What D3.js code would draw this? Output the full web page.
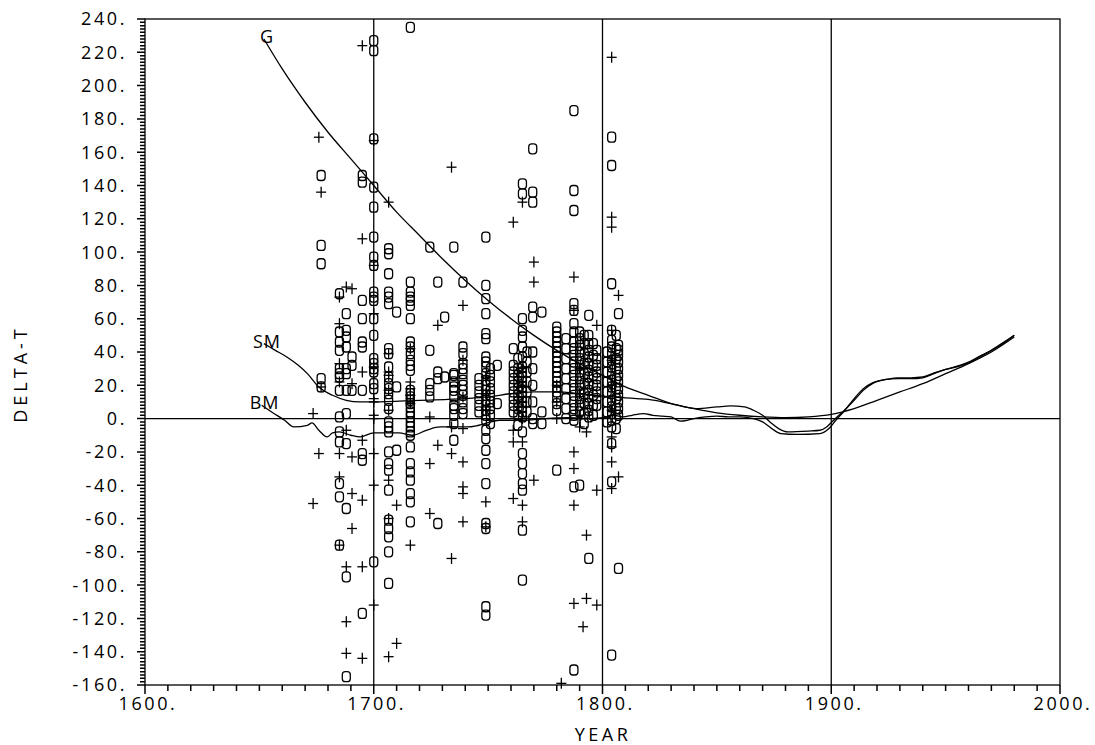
<!DOCTYPE html>
<html><head><meta charset="utf-8">
<script src="https://cdn.jsdelivr.net/npm/d3@7"></script>
<style>
body{margin:0;background:#fff;}
svg{display:block;}
text{font-family:"Open Sans","DejaVu Sans",sans-serif;font-weight:400;fill:#000;}
</style></head>
<body><svg id="chart" width="1095" height="745"></svg>
<script>
// ---------------- DATA ----------------
const xTicks = [1600, 1700, 1800, 1900, 2000];
const yTicks = [-160,-140,-120,-100,-80,-60,-40,-20,0,20,40,60,80,100,120,140,160,180,200,220,240];
const gridYears = [1700, 1800, 1900];

const gYears  = [1652,1660,1670,1680,1690,1700,1710,1720,1730,1740,1750,1760,1770,1780,1790,1800,1810,1820,1830,1840,1850,1860,1870,1880,1890,1900,1910,1920,1930,1940,1950,1960,1970,1980];
const gValues = [228,210,190,172,156,140,124,110,96,83,71,60,50,41,33,26,19,14,9,6,3.5,2,1,0.5,1,2.5,6,11,16,21,27,33,40,49];

const smYears  = [1652,1657,1662,1667,1671,1676,1682,1688,1694,1700,1720,1740,1750,1760,1770,1780,1790,1800,1810,1815,1820,1830,1841,1850,1856,1862,1866,1870,1874,1877,1881,1890,1895,1898,1901,1905,1910,1914,1918,1924,1929,1935,1940,1945,1950,1955,1961,1965,1970,1975,1980];
const smValues = [45,41,37,32,27,19,14,11,10,10,11,12,13,15,16,16,15,13.5,12.5,12,11.5,9,6,7,7.6,7,5,2,-3,-6,-8,-7.5,-7,-5,-1,4,11,17,21,23.5,24,24,24.5,27,29.5,31,34,37,41,45,50];

const bmYears  = [1651,1656,1661,1665,1671,1673,1676,1679.6,1682,1685,1690,1694,1700,1711,1717,1723,1729,1741,1746,1755,1765,1775,1785,1795,1800,1805,1809,1813,1818,1822,1826,1830,1834,1837,1840,1845,1850,1855,1860,1866,1870,1874,1878,1885,1895,1899,1902,1906,1910,1914,1918,1924,1929,1935,1940,1945,1950,1955,1961,1965,1970,1975,1980];
const bmValues = [8,3.4,-1,-5,-4,-2.6,-7,-11,-8.6,-8,-10,-11,-8.6,-8.6,-10,-7,-5,-5,-4,-1,-1,0,0.5,0,0.5,2,1,2,3,2,1.5,1,-1.5,-1,0,1,1.5,1,1,0,-2,-6,-9,-9.5,-9,-6,-1,5,12,18,21.5,23.5,24.5,24.5,25,27.5,29.5,31.5,34.5,37.5,41,45.5,50];

// "O" observations: [year, values...]
const circleCols = [
 [1677,[146,104,93,24,19]],
 [1685,[75,52,46,41,30,27,25,17,1,-8,-14,-39,-47,-76]],
 [1688,[63,53,49,43,30,27,17,3,-15,-54,-95,-155]],
 [1690.5,[37,32,17]],
 [1695,[146,142,71,60,46,43,17,-21,-25,-117]],
 [1700,[227,221,168,139,127,109,97,92,76,73,71,60,50,36,33,30,28,21,18,-86]],
 [1706.5,[102,99,87,76,73,69,42,39,31,25,21,18,15,11,6,-2,-5,-8,-20,-27,-31,-43,-61,-66,-71,-80,-99]],
 [1710,[64,19,-19]],
 [1716,[235,82,76,73,71,68,60,46,43,39,35,32,29,17,15,13,11,9,7,4,1,-2,-5,-8,-10,-17,-27,-32,-37,-45,-50,-62]],
 [1724.5,[103,41,21,17,13]],
 [1728,[82,28,24,-63]],
 [1731,[61,25]],
 [1735,[103,27,26,22,19,17,13,8,6,2,-3,-13]],
 [1739,[82,43,39,33,30,27,23,20,17,14,10,6,3]],
 [1746,[24,20,16,12,8,4]],
 [1749,[109,80,72,63,51,48,37,34,31,27,23,20,17,14,11,8,5,2,-1,-7,-12,-19,-27,-39,-63,-66,-113,-118]],
 [1751,[30,26,22,18,14,10,6,2,-3]],
 [1754,[32,9]],
 [1761,[42,32,28,24,20,16,12,8,4]],
 [1763,[36,30,26,22,18,14,10,6,2,-4]],
 [1765,[141,135,60,53,49,43,37,31,28,25,22,19,16,13,10,7,4,1,-8,-21,-27,-33,-39,-43,-67,-97]],
 [1767,[40,34,28,22,16,10,4]],
 [1769.5,[162,136,130,67,61,40,30,20,10,0,-3]],
 [1773.5,[64,4,-3]],
 [1780,[55,52,49,46,43,40,37,34,31,28,25,22,19,16,13,9,5,-31]],
 [1784,[48,42,36,30,24,18,12,6,0]],
 [1787.5,[185,137,125,69,65,57,52,46,42,38,34,30,26,22,18,14,10,6,2,-1,-41,-151]],
 [1790,[52,48,44,40,36,32,28,24,20,16,12,8,4,-40]],
 [1792,[50,45,39,33,27,21,15,9,3,-3]],
 [1794,[62,50,45,41,37,33,29,25,21,17,13,9,5,1,-84]],
 [1796,[45,38,32,26,20,14,8,2]],
 [1797.5,[41,36,32,28,24,20,16,12,8]],
 [1802,[40,34,28,22,16,10,4,-2]],
 [1804,[169,152,81,53,47,43,39,35,31,27,23,19,15,11,7,3,-1,-5,-15,-38,-142]],
 [1806,[50,42,36,30,24,18,12,6,0,-6]],
 [1807,[63,44,41,38,34,30,26,22,18,14,10,6,2,-90]]
];

// "+" observations: [year, values...]
const plusCols = [
 [1673.5,[3,-51]],
 [1676,[169,-21]],
 [1677,[136,19]],
 [1685,[73,57,33,22,-21,-35,-76]],
 [1688,[79,-7,-89,-122,-141]],
 [1690.5,[78,21,-23,-45,-66]],
 [1695,[224,108,28,-13,-49,-89,-144]],
 [1700,[167,92,63,31,12,10,2,0,-21,-40,-112]],
 [1706.5,[130,39,28,26,17,5,-37,-60,-143]],
 [1710,[-52,-135]],
 [1716,[42,22,18,14,9,-76]],
 [1724.5,[1,-27,-57]],
 [1728,[56,-16]],
 [1734,[151,-5,-21,-84]],
 [1739,[68,35,13,-6,-26,-41,-45,-62]],
 [1749,[25,15,7,5,-50,-65]],
 [1761,[118,-7,-14,-48]],
 [1765,[130,30,20,10,0,-14,-52,-62]],
 [1770,[94,82,-37]],
 [1780,[20,10,0]],
 [1782,[-159]],
 [1787.5,[85,65,-20,-30,-52,-111]],
 [1790,[30,15,2,-5]],
 [1791.5,[-125]],
 [1793,[-8,-70,-108]],
 [1797.5,[56,-43,-112]],
 [1804,[217,121,115,53,35,20,5,-11,-17,-26,-42]],
 [1807,[74,-35]]
];

// ---------------- DRAW ----------------
const svg = d3.select("#chart");
const x = d3.scaleLinear().domain([1600, 2000]).range([145, 1060]);
const y = d3.scaleLinear().domain([-160, 240]).range([685, 19]);
const ink = "#000";
const SW = 1.3;

// frame
svg.append("rect").attr("x", x(1600)).attr("y", y(240))
  .attr("width", x(2000) - x(1600)).attr("height", y(-160) - y(240))
  .attr("fill", "none").attr("stroke", ink).attr("stroke-width", SW);

// grid lines
svg.selectAll("line.grid").data(gridYears).join("line").attr("class", "grid")
  .attr("x1", d => x(d)).attr("x2", d => x(d))
  .attr("y1", y(240)).attr("y2", y(-160))
  .attr("stroke", ink).attr("stroke-width", SW);
svg.append("line").attr("x1", x(1600)).attr("x2", x(2000))
  .attr("y1", y(0)).attr("y2", y(0)).attr("stroke", ink).attr("stroke-width", SW);

// ticks (drawn from the scales) as one path
const minorY = d3.range(-160, 241, 2);
const minorX = d3.range(1600, 2001, 10);
let tickD = "";
minorY.forEach(v => {
  const len = (Math.round(v) % 20 === 0) ? 8 : 5;
  tickD += `M${x(1600)},${y(v)}H${x(1600) - len}`;
});
minorX.forEach(v => {
  const len = (v % 100 === 0) ? 9 : 6;
  tickD += `M${x(v)},${y(-160)}V${y(-160) + len}`;
});
svg.append("path").attr("d", tickD).attr("fill", "none")
  .attr("stroke", ink).attr("stroke-width", 1.5);

// tick labels
svg.append("g").selectAll("text").data(yTicks).join("text")
  .attr("x", x(1600) - 18).attr("y", d => y(d)).attr("dy", "0.36em")
  .attr("text-anchor", "end").attr("font-size", 18).attr("letter-spacing", "2.6px")
  .text(d => d + ".");
svg.append("g").selectAll("text").data(xTicks).join("text")
  .attr("x", d => x(d) + 3).attr("y", y(-160) + 25)
  .attr("text-anchor", "middle").attr("font-size", 18).attr("letter-spacing", "2.6px")
  .text(d => d + ".");

// axis titles
svg.append("text").attr("transform", "translate(27,374) rotate(-90)")
  .attr("text-anchor", "middle").attr("font-size", 18).attr("letter-spacing", "4px").text("DELTA-T");
svg.append("text").attr("x", 603).attr("y", 741)
  .attr("text-anchor", "middle").attr("font-size", 18).attr("letter-spacing", "3.5px").text("YEAR");

// curves
const line = d3.line().x(d => x(d[0])).y(d => y(d[1])).curve(d3.curveMonotoneX);
const curves = [
  {name: "G", yrs: gYears, vals: gValues},
  {name: "SM", yrs: smYears, vals: smValues},
  {name: "BM", yrs: bmYears, vals: bmValues}
];
curves.forEach(c => {
  const pts = c.yrs.map((yr, i) => [yr, c.vals[i]]);
  svg.append("path").datum(pts).attr("d", line)
    .attr("fill", "none").attr("stroke", ink).attr("stroke-width", SW);
  svg.append("text").attr("x", x(pts[0][0]) + 3).attr("y", y(pts[0][1]) + 4)
    .attr("text-anchor", "middle").attr("font-size", 18).attr("letter-spacing", "1px").text(c.name);
});

// markers
const circles = circleCols.flatMap(([yr, vs]) => vs.map(v => [yr, v]));
const pluses = plusCols.flatMap(([yr, vs]) => vs.map(v => [yr, v]));

svg.append("g").selectAll("rect").data(circles).join("rect")
  .attr("x", d => x(d[0]) - 4).attr("y", d => y(d[1]) - 5)
  .attr("width", 8).attr("height", 10).attr("rx", 3).attr("ry", 3)
  .attr("fill", "none").attr("stroke", ink).attr("stroke-width", SW);

const pg = svg.append("g").selectAll("g").data(pluses).join("g")
  .attr("transform", d => `translate(${x(d[0])},${y(d[1])})`);
pg.append("line").attr("x1", -5).attr("x2", 5).attr("y1", 0).attr("y2", 0)
  .attr("stroke", ink).attr("stroke-width", SW);
pg.append("line").attr("x1", 0).attr("x2", 0).attr("y1", -5.5).attr("y2", 5.5)
  .attr("stroke", ink).attr("stroke-width", SW);
</script></body></html>
